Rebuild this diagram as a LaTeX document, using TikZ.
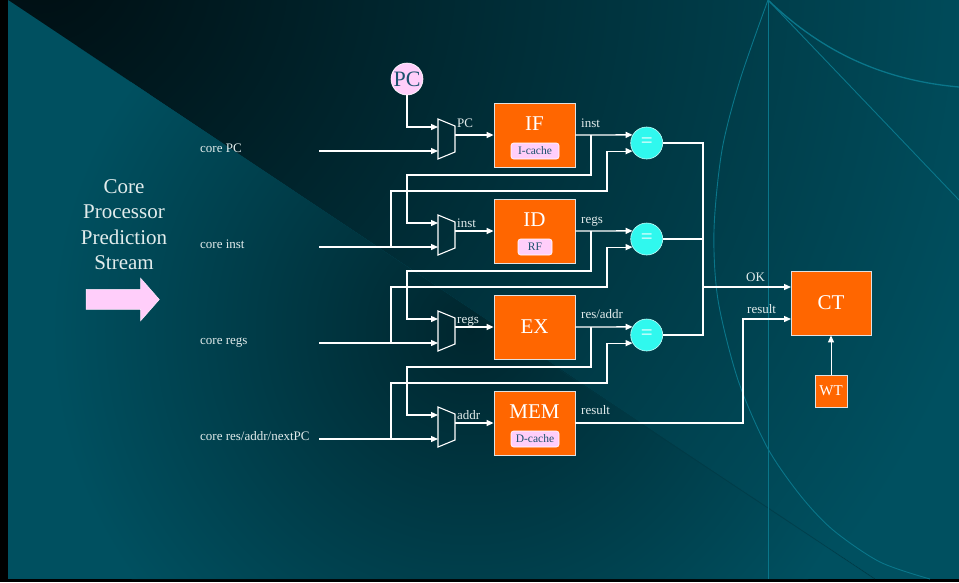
\documentclass[tikz,border=0pt]{standalone}
\usepackage{fontspec}
\setmainfont{Liberation Serif}
\usetikzlibrary{arrows.meta}
\definecolor{bgteal}{RGB}{0,80,96}
\definecolor{bgdark}{RGB}{0,14,18}
\definecolor{bgspot}{RGB}{0,38,46}
\definecolor{decoline}{RGB}{10,118,138}
\definecolor{stageorange}{RGB}{255,102,0}
\definecolor{boxedge}{RGB}{225,225,225}
\definecolor{pinkfill}{RGB}{255,206,250}
\definecolor{cyanfill}{RGB}{48,248,238}
\definecolor{darktext}{RGB}{28,82,110}
\definecolor{labeltext}{RGB}{226,236,236}
\begin{document}
\begin{tikzpicture}[x=1pt,y=-1pt,
  wire/.style={draw=white,line width=1.3pt},
  arr/.style={wire,-{Triangle[length=7pt,width=6pt]}},
  muxshape/.style={draw=white,line width=1.1pt,line join=miter},
  stagebox/.style={draw=boxedge,fill=stageorange,line width=0.8pt,minimum width=81pt,minimum height=64pt,inner sep=0pt},
  subbox/.style={draw=white,fill=pinkfill,rounded corners=2.5pt,line width=0.6pt,minimum height=16pt,inner sep=0pt,text=darktext,font=\fontsize{11.5}{13}\selectfont},
  bigtext/.style={text=white,font=\fontsize{21}{24}\selectfont,inner sep=0pt},
  lbl/.style={text=labeltext,font=\fontsize{13}{15}\selectfont,inner sep=0pt,anchor=base west},
  titletext/.style={text=labeltext,font=\fontsize{21}{24}\selectfont,inner sep=0pt,anchor=base},
  cmp/.style={circle,draw=white!70!cyanfill,fill=cyanfill,line width=0.6pt,minimum size=32pt,inner sep=0pt,text=white,font=\fontsize{21}{24}\selectfont},
  deco/.style={draw=decoline,line width=0.9pt},
]
\useasboundingbox (0,0) rectangle (959,582);
% ---------- background ----------
\fill[black] (0,0) rectangle (959,582);
\begin{scope}
  \clip (8,0) -- (959,0) -- (959,579) -- (875,579) -- cycle;
  \fill[bgteal] (8,0) rectangle (959,579);
  \shade[inner color=bgdark,outer color=bgteal] (40,-40) circle (1000);
\end{scope}
\begin{scope}
  \clip (8,0) -- (875,579) -- (8,579) -- cycle;
  \fill[bgteal] (8,0) rectangle (959,579);
  \shade[inner color=bgspot,outer color=bgteal] (470,330) circle (420);
\end{scope}
\draw[color=bgteal!70!black,line width=0.8pt,opacity=0.6] (560,370) -- (875,579);
% decorative lines
\draw[deco] (768,0) -- (768,579);
\draw[deco] (768,0) -- (959,200);
\draw[deco,line width=1.3pt] (768,0) .. controls (820,50) and (880,80) .. (959,87);
\draw[deco] plot[smooth] coordinates {(768,0) (740,80) (722,150) (714,230) (718,300) (738,380) (767,447) (800,495) (833,530) (880,562) (930,579)};
% ---------- left title ----------
\node[titletext] (t1) at (124,193) {Core};
\node[titletext] (t2) at (124,218.5) {Processor};
\node[titletext] (t3) at (124,244) {Prediction};
\node[titletext] (t4) at (124,269.5) {Stream};
\fill[pinkfill,draw=white!60!pinkfill,line width=0.5pt] (86,289.3) -- (140.7,289.3) -- (140.7,278.3) -- (159.3,299.5) -- (140.7,320.7) -- (140.7,309.3) -- (86,309.3) -- cycle;
% ---------- core labels ----------
\node[lbl] (lcpc) at (200,152.5) {core PC};
\node[lbl] (lcin) at (200,248.5) {core inst};
\node[lbl] (lcrg) at (200,344.5) {core regs};
\node[lbl] (lcra) at (200,440.5) {core res/addr/nextPC};
\coordinate (cPC) at (319,151);
\coordinate (cIN) at (319,247);
\coordinate (cRG) at (319,343);
\coordinate (cRA) at (319,439);
% ---------- muxes ----------
\foreach \k/\d in {1/0,2/96,3/192,4/288}{
  \draw[muxshape] (438,119+\d) -- (455,126+\d) -- (455,152+\d) -- (438,159+\d) -- cycle;
  \coordinate (m\k a) at (438,127+\d);
  \coordinate (m\k b) at (438,151+\d);
  \coordinate (m\k o) at (455,135+\d);
}
% ---------- nodes ----------
\node[circle,draw=white,fill=pinkfill,line width=0.6pt,minimum size=32pt,inner sep=0pt,text=darktext,font=\fontsize{22}{24}\selectfont] (PC) at (407,79) {PC};
\node[stagebox] (IF) at (534.5,135) {};
\node[bigtext] (IFt) at (534.5,124) {IF};
\node[subbox,minimum width=48pt] (IFc) at (535,151) {I-cache};
\node[stagebox] (ID) at (534.5,231) {};
\node[bigtext] (IDt) at (534.5,220) {ID};
\node[subbox,minimum width=34pt] (IDc) at (535,247) {RF};
\node[stagebox] (EX) at (534.5,327) {};
\node[bigtext] (EXt) at (534.5,327) {EX};
\node[stagebox] (MEM) at (534.5,423) {};
\node[bigtext] (MEMt) at (534.5,412) {MEM};
\node[subbox,minimum width=48pt] (MEMc) at (535,439) {D-cache};
\node[cmp] (c1) at (646.7,143) {=};
\node[cmp] (c2) at (646.7,239) {=};
\node[cmp] (c3) at (646.7,335) {=};
\node[draw=boxedge,fill=stageorange,line width=0.8pt,minimum width=80pt,minimum height=64pt,inner sep=0pt,text=white,font=\fontsize{21}{24}\selectfont] (CT) at (831,303) {CT};
\node[draw=boxedge,fill=stageorange,line width=0.8pt,minimum width=32pt,minimum height=32pt,inner sep=0pt,text=white,font=\fontsize{15}{17}\selectfont] (WT) at (831,391) {WT};
\coordinate (ctok) at (791,287);
\coordinate (ctres) at (791,319);
% ---------- wires ----------
\draw[arr] (PC.south) |- (m1a);
\draw[arr] (cPC) -- (m1b);
\draw[arr] (cIN) -- (m2b);
\draw[arr] (cRG) -- (m3b);
\draw[arr] (cRA) -- (m4b);
\draw[arr] (m1o) -- (IF.west);
\draw[arr] (m2o) -- (ID.west);
\draw[arr] (m3o) -- (EX.west);
\draw[arr] (m4o) -- (MEM.west);
\draw[arr] (IF.east) -- (c1.150);
\draw[arr] (ID.east) -- (c2.150);
\draw[arr] (EX.east) -- (c3.150);
% stage outputs fed to next mux
\coordinate (bIF) at (591,135);
\coordinate (bID) at (591,231);
\coordinate (bEX) at (591,327);
\draw[arr] (bIF) |- (407,175) |- (m2a);
\draw[arr] (bID) |- (407,271) |- (m3a);
\draw[arr] (bEX) |- (407,367) |- (m4a);
% core values fed to comparators
\coordinate (bIN) at (391,247);
\coordinate (bRG) at (391,343);
\coordinate (bRA) at (391,439);
\draw[arr] (bIN) |- (607,191) |- (c1.210);
\draw[arr] (bRG) |- (607,287) |- (c2.210);
\draw[arr] (bRA) |- (607,383) |- (c3.210);
% comparator bus
\draw[wire] (c1.east) -| (703,335) -- (c3.east);
\draw[wire] (c2.east) -- (703,239);
\draw[arr] (703,287) -- (ctok);
\draw[arr] (MEM.east) -| (743,319) -- (ctres);
\draw[draw=white,line width=1pt,-{Triangle[length=7pt,width=6pt]}] (WT.north) -- (CT.south);
% ---------- wire labels ----------
\node[lbl] (lm1) at (457,127) {PC};
\node[lbl] (lm2) at (457,227) {inst};
\node[lbl] (lm3) at (457,323) {regs};
\node[lbl] (lm4) at (457,419) {addr};
\node[lbl] (lo1) at (581,127) {inst};
\node[lbl] (lo2) at (581,223) {regs};
\node[lbl] (lo3) at (581,318) {res/addr};
\node[lbl] (lo4) at (581,414) {result};
\node[lbl] (lok) at (746,281) {OK};
\node[lbl] (lres) at (747,313) {result};
\end{tikzpicture}
\end{document}
